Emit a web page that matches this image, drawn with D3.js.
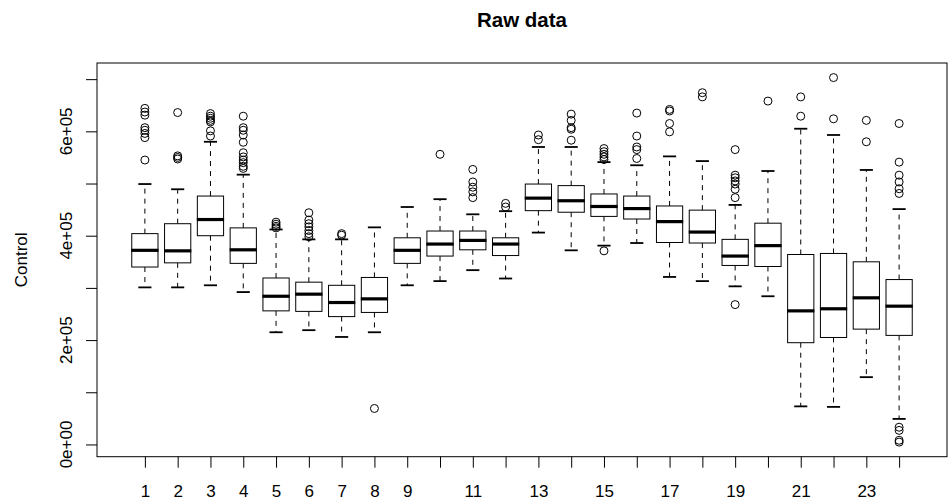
<!DOCTYPE html>
<html>
<head>
<meta charset="utf-8">
<script src="https://cdn.jsdelivr.net/npm/d3@7"></script>
<style>
  html, body { margin: 0; padding: 0; background: #fff; }
  svg text { font-family: "Liberation Sans", Arial, sans-serif; fill: #000; }
</style>
</head>
<body>
<div id="chart"></div>
<script>
// Box statistics (values in raw units)
const groups = d3.range(1, 25);
const whiskerLow  = [3.01e5, 3.01e5, 3.05e5, 2.92e5, 2.15e5, 2.19e5, 2.06e5, 2.15e5, 3.05e5, 3.13e5, 3.34e5, 3.18e5,
                     4.06e5, 3.72e5, 3.81e5, 3.86e5, 3.21e5, 3.13e5, 3.03e5, 2.84e5, 0.73e5, 0.72e5, 1.29e5, 0.49e5];
const q1          = [3.40e5, 3.48e5, 4.00e5, 3.47e5, 2.56e5, 2.55e5, 2.45e5, 2.53e5, 3.47e5, 3.61e5, 3.73e5, 3.62e5,
                     4.48e5, 4.45e5, 4.37e5, 4.32e5, 3.87e5, 3.86e5, 3.43e5, 3.41e5, 1.95e5, 2.05e5, 2.21e5, 2.09e5];
const medians     = [3.72e5, 3.71e5, 4.31e5, 3.73e5, 2.84e5, 2.88e5, 2.72e5, 2.79e5, 3.72e5, 3.84e5, 3.91e5, 3.84e5,
                     4.72e5, 4.67e5, 4.56e5, 4.52e5, 4.27e5, 4.07e5, 3.61e5, 3.81e5, 2.56e5, 2.60e5, 2.81e5, 2.65e5];
const q3          = [4.04e5, 4.23e5, 4.76e5, 4.15e5, 3.19e5, 3.11e5, 3.05e5, 3.20e5, 3.96e5, 4.09e5, 4.09e5, 3.96e5,
                     4.99e5, 4.96e5, 4.80e5, 4.76e5, 4.57e5, 4.49e5, 3.93e5, 4.24e5, 3.64e5, 3.66e5, 3.50e5, 3.16e5];
const whiskerHigh = [4.99e5, 4.89e5, 5.80e5, 5.17e5, 4.12e5, 3.93e5, 3.93e5, 4.16e5, 4.55e5, 4.70e5, 4.41e5, 4.47e5,
                     5.70e5, 5.70e5, 5.41e5, 5.35e5, 5.52e5, 5.43e5, 4.59e5, 5.24e5, 6.05e5, 5.93e5, 5.26e5, 4.51e5];
const outliers = [
  [6.44e5, 6.37e5, 6.31e5, 6.07e5, 6.02e5, 5.96e5, 5.88e5, 5.45e5],
  [6.36e5, 5.53e5, 5.50e5, 5.47e5],
  [6.34e5, 6.29e5, 6.25e5, 6.21e5, 6.18e5, 6.01e5, 5.91e5],
  [6.29e5, 6.07e5, 6.02e5, 5.93e5, 5.79e5, 5.59e5, 5.51e5, 5.45e5, 5.40e5, 5.33e5, 5.29e5],
  [4.26e5, 4.22e5, 4.18e5, 4.15e5],
  [4.44e5, 4.30e5, 4.23e5, 4.17e5, 4.10e5, 4.04e5, 3.98e5],
  [4.04e5, 4.01e5],
  [0.69e5],
  [],
  [5.56e5],
  [5.27e5, 5.03e5, 4.93e5, 4.84e5, 4.73e5],
  [4.62e5, 4.55e5],
  [5.93e5, 5.84e5],
  [6.33e5, 6.21e5, 6.07e5, 6.04e5, 5.83e5],
  [5.67e5, 5.61e5, 5.56e5, 5.51e5, 5.46e5, 3.71e5],
  [6.35e5, 5.91e5, 5.70e5, 5.65e5, 5.48e5],
  [6.42e5, 6.39e5, 6.15e5, 5.99e5],
  [6.74e5, 6.66e5],
  [5.65e5, 5.16e5, 5.11e5, 5.05e5, 4.99e5, 4.89e5, 4.73e5, 2.68e5],
  [6.58e5],
  [6.66e5, 6.29e5],
  [7.03e5, 6.24e5],
  [6.21e5, 5.80e5],
  [6.15e5, 5.41e5, 5.16e5, 5.03e5, 4.90e5, 4.81e5, 0.33e5, 0.27e5, 0.08e5, 0.045e5]
];
const xTickLabels = ['1', '2', '3', '4', '5', '6', '7', '8', '9', '', '11', '', '13', '', '15', '', '17', '', '19', '', '21', '', '23', ''];
const yTicks = d3.range(0, 8e5, 1e5);
const yTickLabels = ['0e+00', '', '2e+05', '', '4e+05', '', '6e+05', ''];

const width = 948, height = 502;
const plot = { left: 97, right: 947, top: 63, bottom: 456.7 };

const svg = d3.select('#chart').append('svg')
  .attr('width', width)
  .attr('height', height);

// R style axis ranges: 4% padding around the data range
const allVals = whiskerLow.concat(whiskerHigh, outliers.flat());
const yMin = d3.min(allVals), yMax = d3.max(allVals);
const yPad = (yMax - yMin) * 0.04;
const y = d3.scaleLinear()
  .domain([yMin - yPad, yMax + yPad])
  .range([plot.bottom, plot.top]);

const xPad = (groups.length) * 0.04;
const x = d3.scaleLinear()
  .domain([0.5 - xPad, groups.length + 0.5 + xPad])
  .range([plot.left, plot.right]);

const unit = x(1) - x(0);
const boxW = unit * 0.8;
const stapleW = boxW * 0.5;

const g = svg.append('g');

groups.forEach((grp, i) => {
  const cx = x(grp);
  const gg = g.append('g');

  // whiskers
  gg.append('line')
    .attr('x1', cx).attr('x2', cx)
    .attr('y1', y(q3[i])).attr('y2', y(whiskerHigh[i]))
    .attr('stroke', '#000').attr('stroke-width', 1)
    .attr('stroke-dasharray', '5,5');
  gg.append('line')
    .attr('x1', cx).attr('x2', cx)
    .attr('y1', y(q1[i])).attr('y2', y(whiskerLow[i]))
    .attr('stroke', '#000').attr('stroke-width', 1)
    .attr('stroke-dasharray', '5,5');

  // staples
  [whiskerLow[i], whiskerHigh[i]].forEach(v => {
    gg.append('line')
      .attr('x1', cx - stapleW / 2).attr('x2', cx + stapleW / 2)
      .attr('y1', y(v)).attr('y2', y(v))
      .attr('stroke', '#000').attr('stroke-width', 1.8);
  });

  // box
  gg.append('rect')
    .attr('x', cx - boxW / 2)
    .attr('y', y(q3[i]))
    .attr('width', boxW)
    .attr('height', y(q1[i]) - y(q3[i]))
    .attr('fill', '#fff')
    .attr('stroke', '#000')
    .attr('stroke-width', 1);

  // median
  gg.append('line')
    .attr('x1', cx - boxW / 2 - 0.5).attr('x2', cx + boxW / 2 + 0.5)
    .attr('y1', y(medians[i])).attr('y2', y(medians[i]))
    .attr('stroke', '#000').attr('stroke-width', 3.2);

  // outliers
  gg.selectAll('circle')
    .data(outliers[i])
    .enter().append('circle')
    .attr('cx', cx)
    .attr('cy', d => y(d))
    .attr('r', 4)
    .attr('fill', 'none')
    .attr('stroke', '#000')
    .attr('stroke-width', 1);
});

// plot frame
svg.append('rect')
  .attr('x', plot.left).attr('y', plot.top)
  .attr('width', plot.right - plot.left)
  .attr('height', plot.bottom - plot.top)
  .attr('fill', 'none')
  .attr('stroke', '#000')
  .attr('stroke-width', 1);

// x axis
const xAxis = svg.append('g')
  .attr('transform', `translate(0,${plot.bottom})`)
  .call(d3.axisBottom(x)
    .tickValues(groups)
    .tickSize(11)
    .tickSizeOuter(0)
    .tickFormat((d, i) => xTickLabels[i]));
xAxis.select('.domain').remove();
xAxis.selectAll('line').attr('stroke', '#000');
xAxis.selectAll('text')
  .attr('y', 0)
  .attr('dy', 0)
  .attr('transform', 'translate(0,40)')
  .style('font-size', '17px')
  .style('font-family', '"Liberation Sans", Arial, sans-serif')
  .attr('fill', '#000');

// y axis
const yAxis = svg.append('g')
  .attr('transform', `translate(${plot.left},0)`)
  .call(d3.axisLeft(y)
    .tickValues(yTicks)
    .tickSize(11)
    .tickSizeOuter(0)
    .tickFormat(() => ''));
yAxis.select('.domain').remove();
yAxis.selectAll('line').attr('stroke', '#000');

svg.append('g').selectAll('text')
  .data(yTicks)
  .enter().append('text')
  .attr('transform', d => `translate(72,${y(d)}) rotate(-90)`)
  .attr('text-anchor', 'middle')
  .style('font-size', '17px')
  .text((d, i) => yTickLabels[i]);

// y axis title
svg.append('text')
  .attr('transform', `translate(27,${(plot.top + plot.bottom) / 2}) rotate(-90)`)
  .attr('text-anchor', 'middle')
  .style('font-size', '17px')
  .text('Control');

// main title
svg.append('text')
  .attr('x', (plot.left + plot.right) / 2)
  .attr('y', 27)
  .attr('text-anchor', 'middle')
  .style('font-size', '20.5px')
  .style('font-weight', 'bold')
  .text('Raw data');
</script>
</body>
</html>
